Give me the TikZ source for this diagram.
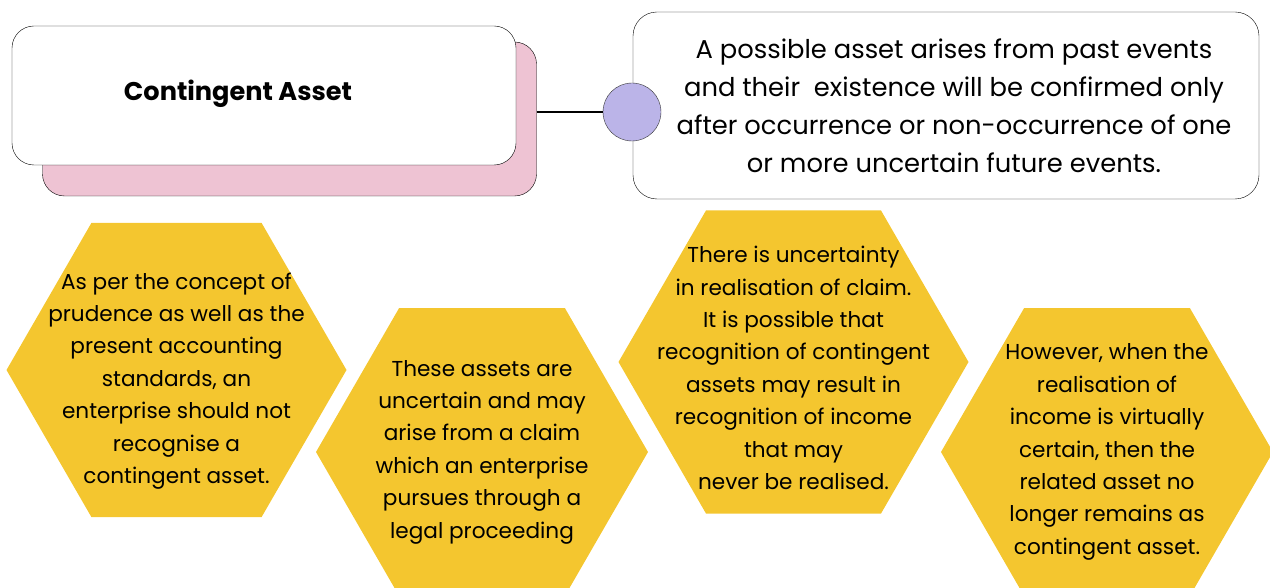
\documentclass[tikz,border=0pt]{standalone}
\usepackage{fontspec}
\setmainfont{Poppins}
\usetikzlibrary{shapes,arrows}
\definecolor{hexyellow}{HTML}{F4C62F}
\definecolor{shadowpink}{HTML}{EEC3D3}
\definecolor{jointpurple}{HTML}{BBB4E8}
\tikzstyle{shadowbox} = [rectangle, draw, fill=shadowpink, rounded corners=22pt, minimum width=494pt, minimum height=154pt]
\tikzstyle{titlebox} = [rectangle, draw, fill=white, rounded corners=22pt, minimum width=504pt, minimum height=139pt]
\tikzstyle{defbox} = [rectangle, draw, fill=white, rounded corners=24pt, minimum width=626pt, minimum height=187pt]
\tikzstyle{joint} = [circle, draw=black!80, fill=jointpurple, minimum size=58pt, inner sep=0pt]
\tikzstyle{hexa} = [regular polygon, regular polygon sides=6, fill=hexyellow, inner sep=0pt]
\tikzstyle{hextext} = [align=center, font=\fontsize{21.6}{32.4}\selectfont]
\tikzstyle{deftext} = [align=center, font=\fontsize{25.8}{38}\selectfont]
\tikzstyle{line} = [draw, line width=1.5pt]

\begin{document}
\begin{tikzpicture}[x=1pt, y=-1pt]
  \clip (0,0) rectangle (1270,588);
  \node [shadowbox] (shadow) at (289.5,119) {};
  \node [titlebox, label={[font=\fontsize{25.6}{30}\selectfont\bfseries, xshift=-26pt, yshift=1.5pt]center:Contingent Asset}] (title) at (264,95.5) {};
  \node [defbox, label={[deftext, xshift=8pt]center:A possible asset arises from past events\\and their\ \ existence will be confirmed only\\after occurrence or non-occurrence of one\\or more uncertain future events.}] (def) at (946,105.5) {};
  \node [joint] (joint) at (632,112) {};

  \path [line] (shadow.east |- joint) -- (joint.west);

  \node [hexa, minimum size=340pt, label={[hextext, yshift=-11pt]center:As per the concept of\\prudence as well as the\\present accounting\\standards, an\\enterprise should not\\recognise a\\contingent asset.}] (prudence) at (176.5,370) {};
  \node [hexa, minimum size=332pt, label={[hextext]center:These assets are\\uncertain and may\\arise from a claim\\which an enterprise\\pursues through a\\legal proceeding}] (claim) at (482,452) {};
  \node [hexa, minimum size=350pt, label={[hextext, yshift=-6pt]center:There is uncertainty\\in realisation of claim.\\It is possible that\\recognition of contingent\\assets may result in\\recognition of income\\that may\\never be realised.}] (uncertain) at (793.5,362) {};
  \node [hexa, minimum size=332pt, label={[hextext]center:However, when the\\realisation of\\income is virtually\\certain, then the\\related asset no\\longer remains as\\contingent asset.}] (certain) at (1107,452) {};
\end{tikzpicture}
\end{document}
